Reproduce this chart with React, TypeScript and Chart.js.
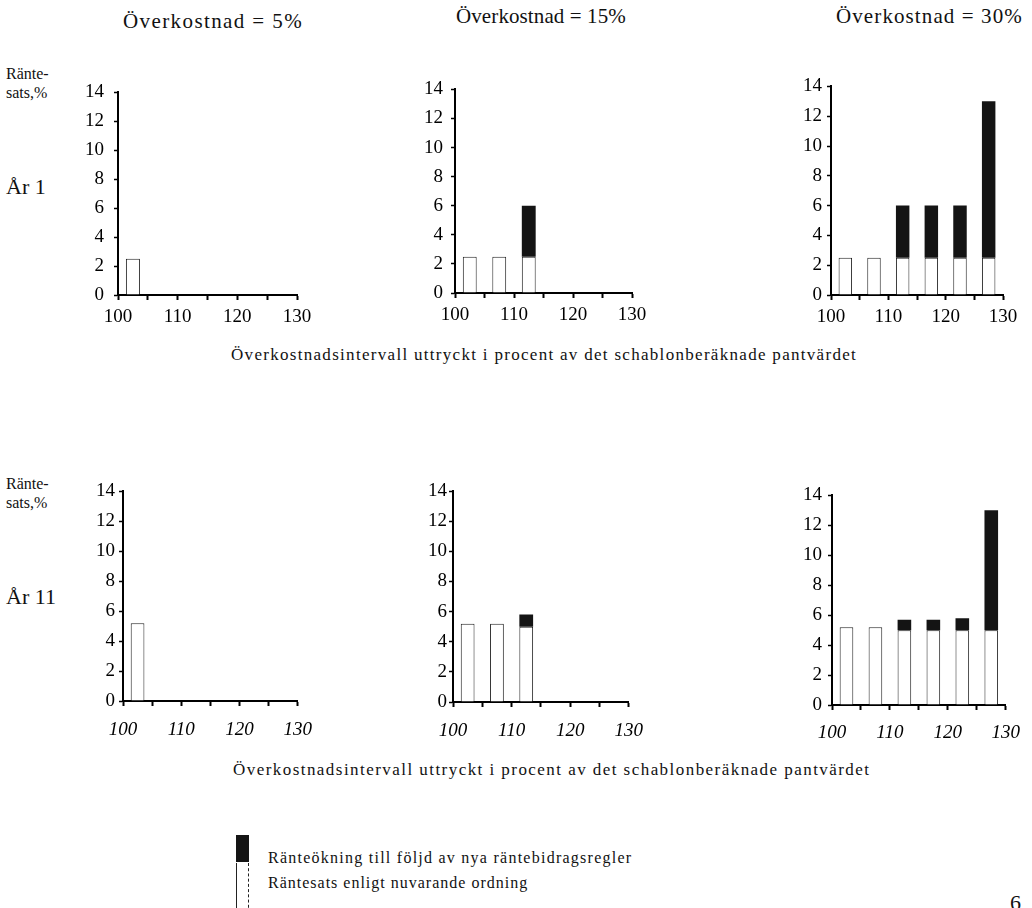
import React, { useEffect, useRef } from "react";
import { Chart, registerables } from "chart.js";
Chart.register(...registerables);

const FONT = "'Liberation Serif', 'Times New Roman', serif";

// Bin centres of the overcost intervals (100-105, 105-110, ... 125-130)
const binCenters = [102.5, 107.5, 112.5, 117.5, 122.5, 127.5];
const xTickLabels = [100, 110, 120, 130];
const yTicks = [0, 2, 4, 6, 8, 10, 12, 14];

// År 1
const base_y1_5 = [2.5, 0, 0, 0, 0, 0];
const incr_y1_5 = [0, 0, 0, 0, 0, 0];
const base_y1_15 = [2.5, 2.5, 2.5, 0, 0, 0];
const incr_y1_15 = [0, 0, 3.5, 0, 0, 0];
const base_y1_30 = [2.5, 2.5, 2.5, 2.5, 2.5, 2.5];
const incr_y1_30 = [0, 0, 3.5, 3.5, 3.5, 10.5];
// År 11
const base_y11_5 = [5.2, 0, 0, 0, 0, 0];
const incr_y11_5 = [0, 0, 0, 0, 0, 0];
const base_y11_15 = [5.2, 5.2, 5.0, 0, 0, 0];
const incr_y11_15 = [0, 0, 0.8, 0, 0, 0];
const base_y11_30 = [5.2, 5.2, 5.0, 5.0, 5.0, 5.0];
const incr_y11_30 = [0, 0, 0.7, 0.7, 0.8, 8.0];

const titles = ["Överkostnad = 5%", "Överkostnad = 15%", "Överkostnad = 30%"];
const xTitle = "Överkostnadsintervall uttryckt i procent av det schablonberäknade pantvärdet";
const legendIncr = "Ränteökning till följd av nya räntebidragsregler";
const legendBase = "Räntesats enligt nuvarande ordning";

const YW = 46; // y-scale width
const PT = 14; // top padding
const PR = 24; // right padding

type Geom = { ax: number; ar: number; ab: number; at: number; ygap: number; xpad: number; italic: boolean };

function BarPanel({ base, incr, g }: { base: number[]; incr: number[]; g: Geom }) {
  const ref = useRef<HTMLCanvasElement>(null);
  const XH = 50;
  const width = g.ar - g.ax + YW + PR;
  const height = g.ab - g.at + PT + XH;
  useEffect(() => {
    const yFont = { family: FONT, size: 19 };
    const xFont = { family: FONT, size: 19, style: g.italic ? ("italic" as const) : ("normal" as const) };
    const chart = new Chart(ref.current!, {
      type: "bar",
      data: {
        datasets: [
          {
            label: "base",
            data: binCenters.map((x, i) => ({ x, y: base[i] })),
            backgroundColor: "#ffffff",
            borderColor: "#222222",
            borderWidth: 1,
            barPercentage: 0.47,
            categoryPercentage: 1,
          },
          {
            label: "incr",
            data: binCenters.map((x, i) => ({ x, y: incr[i] })),
            backgroundColor: "#141414",
            borderWidth: 0,
            barPercentage: 0.47,
            categoryPercentage: 1,
          },
        ],
      },
      options: {
        responsive: false,
        animation: false,
        maintainAspectRatio: false,
        devicePixelRatio: 1,
        layout: { padding: { top: PT, right: PR, left: 0, bottom: 0 } },
        plugins: { legend: { display: false }, tooltip: { enabled: false } },
        scales: {
          x: {
            type: "linear",
            min: 100,
            max: 130,
            stacked: true,
            offset: false,
            grid: { display: true, offset: false, drawOnChartArea: false, drawTicks: true, tickLength: 5, tickColor: "#000", tickWidth: 2 },
            border: { display: true, color: "#000", width: 2 },
            ticks: {
              stepSize: 5,
              autoSkip: false,
              maxRotation: 0,
              padding: g.xpad,
              color: "#000",
              font: xFont,
              callback: (v: any) => (xTickLabels.includes(Number(v)) ? String(v) : ""),
            },
            afterFit: (s: any) => {
              s.height = XH;
            },
          },
          y: {
            min: 0,
            max: 14,
            stacked: true,
            grid: { display: true, drawOnChartArea: false, drawTicks: true, tickLength: 4, tickColor: "#000", tickWidth: 1.5 },
            border: { display: true, color: "#000", width: 2 },
            afterBuildTicks: (s: any) => {
              s.ticks = yTicks.map((v) => ({ value: v }));
            },
            ticks: { padding: Math.max(1, g.ygap - 4), color: "#000", font: yFont },
            afterFit: (s: any) => {
              s.width = YW;
            },
          },
        },
      },
    });
    return () => chart.destroy();
  }, []);
  return (
    <canvas
      ref={ref}
      width={width}
      height={height}
      style={{ position: "absolute", left: g.ax - YW, top: g.at - PT, width, height }}
    />
  );
}

const geoms: Geom[] = [
  { ax: 118, ar: 297, ab: 295, at: 85, ygap: 14, xpad: 6, italic: false },
  { ax: 455, ar: 632, ab: 293, at: 84, ygap: 12, xpad: 6, italic: false },
  { ax: 831, ar: 1003, ab: 295, at: 84, ygap: 9, xpad: 6, italic: false },
  { ax: 123, ar: 301, ab: 701, at: 490, ygap: 8, xpad: 13, italic: true },
  { ax: 453, ar: 632, ab: 702, at: 491, ygap: 6, xpad: 13, italic: true },
  { ax: 832, ar: 1008, ab: 705, at: 492, ygap: 10, xpad: 12, italic: true },
];

const panels = [
  { base: base_y1_5, incr: incr_y1_5 },
  { base: base_y1_15, incr: incr_y1_15 },
  { base: base_y1_30, incr: incr_y1_30 },
  { base: base_y11_5, incr: incr_y11_5 },
  { base: base_y11_15, incr: incr_y11_15 },
  { base: base_y11_30, incr: incr_y11_30 },
];

const txt = (extra: React.CSSProperties): React.CSSProperties => ({
  position: "absolute",
  fontFamily: FONT,
  color: "#111",
  whiteSpace: "nowrap",
  lineHeight: 1,
  ...extra,
});

export default function App() {
  return (
    <div style={{ position: "absolute", left: 0, top: 0, width: 1032, height: 908, background: "#fff", overflow: "hidden" }}>
      {panels.map((p, i) => (
        <BarPanel key={i} base={p.base} incr={p.incr} g={geoms[i]} />
      ))}
      <div style={txt({ left: 123, top: 11, fontSize: 21, letterSpacing: 1.4 })}>{titles[0]}</div>
      <div style={txt({ left: 456, top: 6, fontSize: 21, letterSpacing: 0.1 })}>{titles[1]}</div>
      <div style={txt({ left: 836, top: 6, fontSize: 21, letterSpacing: 1.1 })}>{titles[2]}</div>

      <div style={txt({ left: 6, top: 64, fontSize: 16, lineHeight: "19px" })}>
        Ränte-
        <br />
        sats,%
      </div>
      <div style={txt({ left: 6, top: 176, fontSize: 22 })}>År 1</div>
      <div style={txt({ left: 6, top: 474, fontSize: 16, lineHeight: "19px" })}>
        Ränte-
        <br />
        sats,%
      </div>
      <div style={txt({ left: 6, top: 586, fontSize: 22 })}>År 11</div>

      <div style={txt({ left: 231, top: 346, fontSize: 17, letterSpacing: 1.3 })}>{xTitle}</div>
      <div style={txt({ left: 233, top: 761, fontSize: 17, letterSpacing: 1.45 })}>{xTitle}</div>

      <div style={{ position: "absolute", left: 236, top: 835, width: 13, height: 27, background: "#151515" }} />
      <div
        style={{
          position: "absolute",
          left: 236,
          top: 863,
          width: 11,
          height: 50,
          background: "#fff",
          borderLeft: "1px solid #222",
          borderRight: "1px dashed #222",
        }}
      />
      <div style={txt({ left: 268, top: 850, fontSize: 16, letterSpacing: 1.25 })}>{legendIncr}</div>
      <div style={txt({ left: 268, top: 875, fontSize: 16, letterSpacing: 1.0 })}>{legendBase}</div>
      <div style={txt({ left: 1010, top: 892, fontSize: 22 })}>6</div>
    </div>
  );
}
